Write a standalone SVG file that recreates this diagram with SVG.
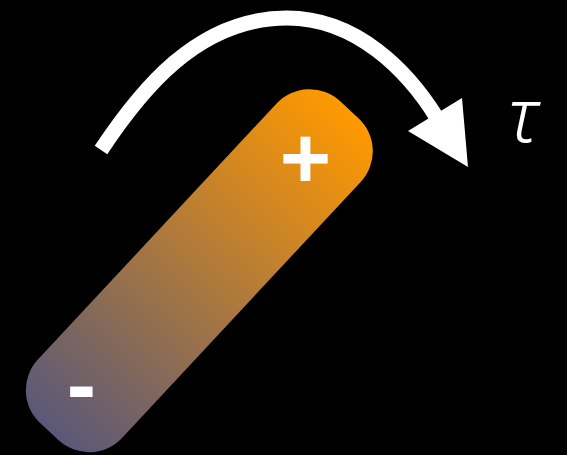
<svg xmlns="http://www.w3.org/2000/svg" width="567" height="455" viewBox="0 0 567 455">
  <defs>
    <linearGradient id="dipoleGrad" x1="0" y1="0" x2="1" y2="0">
      <stop offset="0" stop-color="#5A5879"/>
      <stop offset="1" stop-color="#FF9900"/>
    </linearGradient>
    <style>
      .sign { font-family: "Liberation Sans", Arial, sans-serif; font-weight: bold; font-size: 88px; fill: #FFFFFF; text-anchor: middle; }
      .tau { font-family: "Noto Sans", "DejaVu Sans", sans-serif; font-weight: 300; font-style: italic; font-size: 75px; fill: #FFFFFF; text-anchor: middle; }
      .shaft { fill: none; stroke: #FFFFFF; stroke-width: 15; stroke-linecap: butt; }
      .head { fill: #FFFFFF; }
    </style>
  </defs>
  <rect x="0" y="0" width="567" height="455" fill="#000000"/>

  <g id="dipole">
    <rect x="-220" y="-57.5" width="440" height="115" rx="45" ry="45" fill="url(#dipoleGrad)" transform="translate(199.3,270.7) rotate(-47)"/>
    <text class="sign" x="305.5" y="187.5">+</text>
    <text class="sign" x="81.5" y="414">-</text>
  </g>

  <g id="connectors">
    <g id="torque-arrow">
      <path class="shaft" d="M101,150 C139.5,92 197,18 287,18 C357,18 408.4,71.6 437,118"/>
      <polygon class="head" points="408,131 462,98 468,167"/>
    </g>
  </g>

  <g id="tau-label">
    <text class="tau" x="523" y="142">τ</text>
  </g>
</svg>
